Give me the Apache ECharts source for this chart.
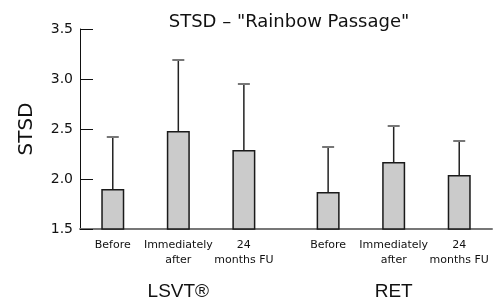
<!DOCTYPE html>
<html><head><meta charset="utf-8">
<script src="https://cdn.jsdelivr.net/npm/echarts@6/dist/echarts.min.js"></script>
<style>html,body{margin:0;padding:0;background:#fff}#c{width:496px;height:303px}</style>
</head><body><div id="c"></div>
<script>
const title = 'STSD – "Rainbow Passage"';
const yName = 'STSD';
const groups = ['LSVT®', 'RET'];
const conditions = ['Before', 'Immediately\nafter', '24\nmonths FU'];
const lsvtMean = [1.90, 2.48, 2.29];
const lsvtUpper = [2.42, 3.19, 2.95];
const retMean = [1.87, 2.17, 2.04];
const retUpper = [2.32, 2.53, 2.38];
const yTicks = [1.5, 2.0, 2.5, 3.0, 3.5];

// layout of slots on a fine category axis
const lead = 3, step = 7, groupGap = 9, total = 44;
const means = [lsvtMean, retMean], uppers = [lsvtUpper, retUpper];
const cats = new Array(total).fill('');
const groupCats = new Array(total).fill('');
const barData = new Array(total).fill('-');
const errData = [];
groups.forEach((g, gi) => {
  const base = lead + gi * (2 * step + groupGap);
  conditions.forEach((c, ci) => {
    const idx = base + ci * step;
    cats[idx] = c;
    barData[idx] = means[gi][ci];
    errData.push([idx, means[gi][ci], uppers[gi][ci]]);
  });
  groupCats[base + step] = g;
});

const font = 'DejaVu Sans, Verdana, sans-serif';
const font2 = 'Liberation Sans, Arial, sans-serif';
const chart = echarts.init(document.getElementById('c'));
chart.setOption({
  animation: false,
  title: { text: title, left: 284, top: 8, textAlign: 'center',
    textStyle: { fontFamily: font, fontSize: 18, fontWeight: 'normal', color: '#111' } },
  grid: { left: 80, top: 29, width: 412, bottom: 74, containLabel: false },
  xAxis: [{
    type: 'category', data: cats, position: 'bottom',
    axisLine: { lineStyle: { color: '#777', width: 2 } },
    axisTick: { show: false },
    axisLabel: { interval: 0, margin: 9, fontFamily: font, fontSize: 11, lineHeight: 15, color: '#111' }
  }, {
    type: 'category', data: groupCats, position: 'bottom', offset: 45,
    axisLine: { show: false }, axisTick: { show: false },
    axisLabel: { interval: 0, fontFamily: font2, fontSize: 19, color: '#111' }
  }],
  yAxis: {
    type: 'value', min: yTicks[0], max: yTicks[yTicks.length - 1], interval: 0.5,
    name: yName, nameLocation: 'middle', nameGap: 43, nameRotate: 90,
    nameTextStyle: { fontFamily: font, fontSize: 20, color: '#111' },
    axisLine: { show: true, lineStyle: { color: '#111', width: 1 } },
    axisTick: { show: true, inside: true, length: 13, lineStyle: { color: '#111' } },
    splitLine: { show: false },
    axisLabel: { margin: 7, fontFamily: font, fontSize: 14, color: '#111',
      formatter: v => v.toFixed(1) }
  },
  series: [{
    type: 'bar', data: barData, barWidth: 23, xAxisIndex: 0,
    itemStyle: { color: '#cbcbcb', borderColor: '#1a1a1a', borderWidth: 1.5 }
  }, {
    type: 'custom', xAxisIndex: 0, data: errData, z: 3,
    renderItem: (params, api) => {
      const top = api.coord([api.value(0), api.value(2)]);
      const bot = api.coord([api.value(0), api.value(1)]);
      return { type: 'group', children: [
        { type: 'line', shape: { x1: top[0], y1: top[1], x2: bot[0], y2: bot[1] },
          style: { stroke: '#222', lineWidth: 1.5 } },
        { type: 'line', shape: { x1: top[0] - 6, y1: top[1], x2: top[0] + 6, y2: top[1] },
          style: { stroke: '#777', lineWidth: 2 } }
      ] };
    }
  }]
});
</script></body></html>
